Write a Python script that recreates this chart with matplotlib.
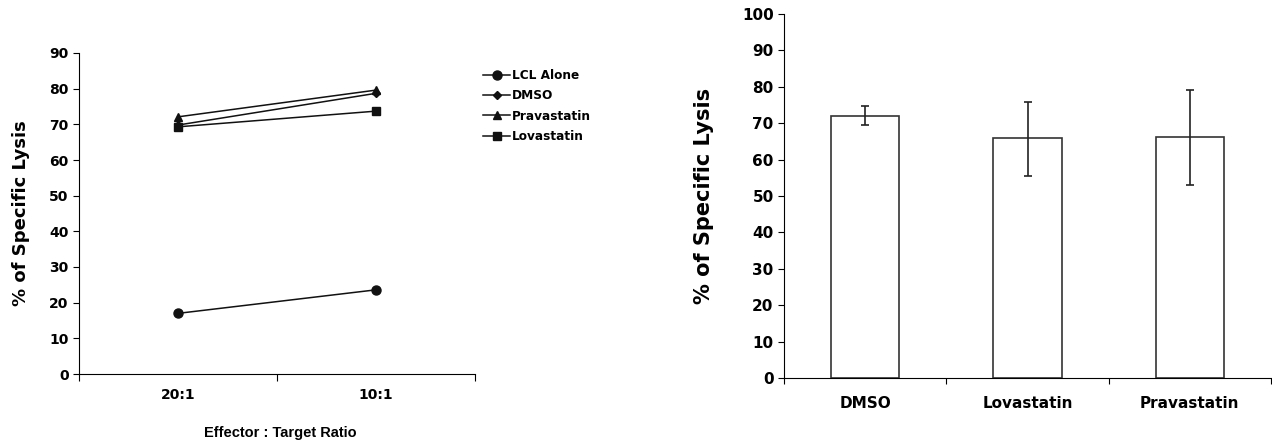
import matplotlib
matplotlib.use("Agg")
import matplotlib.pyplot as plt
import numpy as np

# ---- data ----
ratios = ["20:1", "10:1"]
lcl_alone = [17.0, 23.6]
dmso_line = [69.8, 78.7]
pravastatin_line = [72.1, 79.6]
lovastatin_line = [69.3, 73.7]
line_series = ["LCL Alone", "DMSO", "Pravastatin", "Lovastatin"]

bar_labels = ["DMSO", "Lovastatin", "Pravastatin"]
bar_values = [72.1, 65.8, 66.1]
bar_err_upper = [74.7, 75.7, 79.0]
bar_err_lower = [69.5, 55.6, 53.0]

plt.rcParams['font.family'] = ['DejaVu Sans']
fig = plt.figure(figsize=(12.72, 4.45), dpi=100)

# ---- left panel ----
ax1 = fig.add_axes([79/1272, 1-374/445, 396/1272, 321/445])
xs = np.arange(len(ratios)) + 0.5
series = [lcl_alone, dmso_line, pravastatin_line, lovastatin_line]
markers = ['o', 'D', '^', 's']
msizes = [6.5, 4.5, 6, 6]
for name, vals, m, ms in zip(line_series, series, markers, msizes):
    ax1.plot(xs, vals, color='#111111', lw=1.1, marker=m, ms=ms, label=name)
ax1.set_xlim(0, 2)
ax1.set_ylim(0, 90)
ax1.set_yticks(np.arange(0, 91, 10))
ax1.set_xticks([0, 1, 2])
ax1.set_xticklabels([])
ax1.set_xticks(xs, minor=True)
ax1.set_xticklabels(ratios, minor=True, fontsize=10, fontweight='bold')
ax1.tick_params(axis='x', which='minor', length=0, pad=10)
ax1.tick_params(axis='x', which='major', length=5, direction='out')
ax1.tick_params(axis='y', length=4, direction='out', labelsize=10)
for lab in ax1.get_yticklabels():
    lab.set_fontweight('bold')
for s in ['top', 'right']:
    ax1.spines[s].set_visible(False)
ax1.set_ylabel("% of Specific Lysis", fontsize=13, fontweight='bold', labelpad=14)
fig.text(280/1272, 1-433/445, "Effector : Target Ratio", ha='center', va='center',
         fontsize=10.5, fontweight='bold', family='Liberation Sans')
ax1.legend(loc='upper left', bbox_to_anchor=(477/1272, 1-63/445), bbox_transform=fig.transFigure,
           frameon=False, prop={'weight': 'bold', 'size': 8.7}, handlelength=2.25,
           handletextpad=0.15, labelspacing=0.6, borderpad=0)

# ---- right panel ----
ax2 = fig.add_axes([784/1272, 1-378/445, 487/1272, 364/445])
bx = np.arange(len(bar_labels)) + 0.5
yerr = [np.array(bar_values) - np.array(bar_err_lower), np.array(bar_err_upper) - np.array(bar_values)]
ax2.bar(bx, bar_values, width=0.42, color='white', edgecolor='#333333', lw=1.2)
ax2.errorbar(bx, bar_values, yerr=yerr, fmt='none', ecolor='#222222', elinewidth=1.2, capsize=3, capthick=1.2)
ax2.set_xlim(0, 3)
ax2.set_ylim(0, 100)
ax2.set_yticks(np.arange(0, 101, 10))
ax2.set_xticks([0, 1, 2, 3])
ax2.set_xticklabels([])
ax2.set_xticks(bx, minor=True)
ax2.set_xticklabels(bar_labels, minor=True, fontsize=11, fontweight='bold')
ax2.tick_params(axis='x', which='minor', length=0, pad=13)
ax2.tick_params(axis='x', which='major', length=4, direction='out')
ax2.tick_params(axis='y', length=4, direction='out', labelsize=11)
for lab in ax2.get_yticklabels():
    lab.set_fontweight('bold')
for s in ['top', 'right']:
    ax2.spines[s].set_visible(False)
ax2.set_ylabel("% of Specific Lysis", fontsize=15, fontweight='bold', labelpad=20)

fig.savefig("out.png", dpi=100)
